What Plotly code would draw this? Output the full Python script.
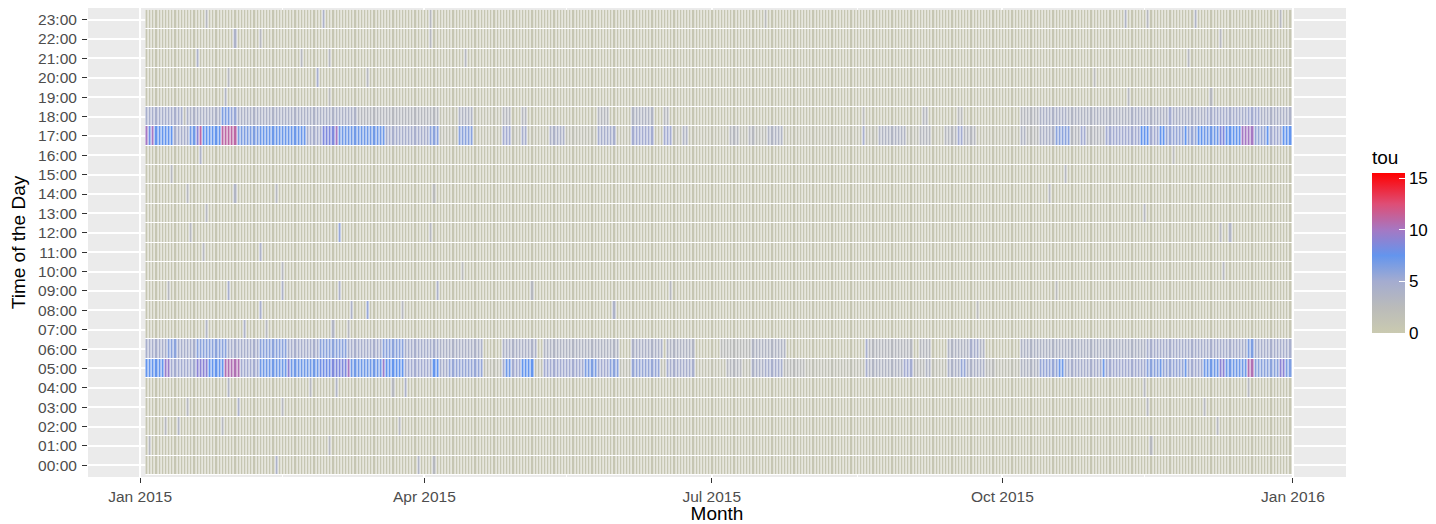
import numpy as np
import pandas as pd
import plotly.graph_objects as go

# ---- data ----
N_DAYS = 363
START_DAY = "2015-01-03 05:00"
HOURS = list(range(24))
HOUR_LABELS = ["%02d:00" % h for h in HOURS]
X_TICKS = ["2015-01-01", "2015-04-01", "2015-07-01", "2015-10-01", "2016-01-01"]
X_TICK_LABELS = ["Jan 2015", "Apr 2015", "Jul 2015", "Oct 2015", "Jan 2016"]
X_MINOR = ["2015-02-15", "2015-05-16", "2015-08-16", "2015-11-15"]
BASE = 0.6

# (first day index, last day index, tou) runs for the busy hours
ROW17 = [(0,0,10),(1,1,8),(2,2,10),(3,8,7.5),(9,13,4.5),(14,15,7),(16,16,9),(17,17,11),
         (18,23,7.5),(24,28,11),(29,35,6.5),(36,50,7.2),(51,55,4.5),(56,59,8.5),(60,60,10),
         (61,75,7),(76,89,4.5),(90,92,6),(93,98,1.5),(99,103,6),(104,112,1),(113,115,5),
         (116,118,1.5),(119,120,4.5),(121,127,1),(128,132,4),(133,142,1.5),(143,148,4.5),
         (149,153,1),(154,160,5),(161,163,1),(164,166,5),(167,169,1.5),(170,171,3.5),
         (172,184,1),(185,187,3),(188,190,1.5),(191,192,3),(193,196,2),(197,201,3.5),
         (202,226,1),(227,227,4.5),(228,231,1.5),(232,240,3.5),(241,244,1.5),(245,248,3),
         (249,252,1),(253,256,3),(257,258,5),(259,262,3),(263,276,1),(277,278,3.5),
         (279,282,2.5),(283,287,4),(288,292,6),(293,295,3),(296,297,5),(298,303,3),
         (304,314,5),(315,317,7.5),(318,320,5),(321,322,7.5),(323,328,5.5),(329,329,7.5),
         (330,332,5.5),(333,334,7.5),(335,339,7),(340,341,8.5),(342,346,7.5),(347,350,10),
         (351,354,5.5),(355,355,7.5),(356,359,5),(360,362,7.5)]
ROW18 = [(0,11,4.5),(12,12,2),(13,23,4),(24,26,6.5),(27,28,5.5),(29,66,4),(67,92,3),
         (93,98,1),(99,103,3.5),(104,112,1),(113,115,3),(119,120,3),(143,146,3),(154,160,3.5),
         (164,165,3),(227,227,2.5),(246,247,3),(257,258,2.5),(277,282,3),(283,291,4),
         (292,311,3.5),(312,316,4),(317,323,3.8),(324,324,5),(325,335,4),(336,348,4.5),
         (349,352,5),(353,362,4)]
ROW5 = [(0,5,7.5),(6,7,9.5),(8,15,5),(16,17,9),(18,19,9),(20,24,7.5),(25,29,10.5),(30,35,5),
        (36,44,7),(45,45,9),(46,54,7),(55,58,8),(59,63,8.5),(64,64,10),(65,74,7),(75,75,9.5),
        (76,81,7.5),(82,90,5),(91,92,7.5),(93,95,4.5),(96,106,5.5),(107,112,1.5),(113,113,5),
        (114,115,7),(116,118,5),(119,122,7.5),(123,125,1.5),(126,138,5),(139,142,6.5),
        (143,146,5),(147,149,6),(150,153,1.5),(154,162,5.5),(163,164,1.5),(165,173,4.5),
        (174,183,1),(184,188,3),(189,191,1.5),(192,195,4),(196,201,4.5),(202,208,2.5),
        (209,227,1.5),(228,228,4.5),(229,239,3.5),(240,242,5),(243,246,2.5),(247,248,3.5),
        (249,253,1.5),(254,257,4),(258,259,5.5),(260,265,4),(266,268,2.5),(269,276,1.5),
        (277,282,3.5),(283,288,5.5),(289,290,7),(291,302,4.5),(303,303,7),(304,316,5),
        (317,320,6),(321,321,7),(322,328,5.5),(329,329,7),(330,334,5),(335,339,7),
        (340,341,9),(342,348,7),(349,350,10.5),(351,358,6),(359,360,9),(361,362,6.5)]
ROW6 = [(0,6,4.5),(7,9,6),(10,15,4.5),(16,25,6),(26,35,4.5),(36,44,6),(45,54,4.5),(55,63,6),
        (64,74,4.5),(75,81,6),(82,92,4.5),(93,106,4),(113,123,4),(126,149,3.5),(154,163,4),
        (165,173,3.5),(182,191,2.5),(192,202,3.5),(228,228,4.5),(229,242,3),(245,248,3),
        (254,260,3.5),(261,263,4.5),(264,265,3.5),(277,316,3.7),(317,348,4.5),(349,350,6.5),
        (351,362,4.5)]

# isolated (hour, day index, tou) cells in the quiet hours
FLECKS = [(23,19,3),(23,56,4),(23,90,3),(23,196,2.5),(23,310,3.5),(23,317,3),(23,332,3.5),(23,359,3),
          (22,28,4),(22,36,3),(22,90,3),(22,340,3),
          (21,16,4),(21,49,3),(21,58,3),(21,101,3),(21,330,3),
          (20,26,3),(20,54,4.5),(20,70,3),(20,300,2.5),
          (19,25,3.5),(19,58,2.5),(19,311,3),(19,337,3),
          (16,17,4),(16,325,2.5),
          (15,8,3),(15,291,3),
          (14,13,3),(14,28,3.5),(14,41,3),(14,91,2.5),(14,286,3),
          (13,19,3),(13,316,3),
          (12,14,3),(12,61,5.5),(12,90,3),(12,340,3),(12,343,3.5),
          (11,18,3),(11,36,4),
          (10,43,3),(10,100,2.5),(10,341,3),
          (9,7,3),(9,26,4.5),(9,43,4),(9,61,4),(9,92,4),(9,122,3),(9,166,3),(9,288,2.5),
          (8,36,4.5),(8,65,4),(8,70,5.5),(8,81,3),(8,148,4),(8,263,2.5),
          (7,19,3.5),(7,31,4),(7,38,3),(7,59,3.5),(7,64,3),
          (4,26,3.5),(4,52,3),(4,60,3.5),(4,78,3),(4,82,4),(4,316,3),(4,349,3),
          (3,13,3),(3,29,4),(3,43,3),(3,317,3),(3,335,3),
          (2,6,3),(2,10,3.5),(2,24,3),(2,80,3),(2,339,3),
          (1,1,3),(1,58,3),(1,318,3),
          (0,41,4),(0,86,3.5),(0,91,3)]

# ---- build the grid ----
days = pd.date_range(START_DAY, periods=N_DAYS, freq="D")
z = np.full((24, N_DAYS), BASE)
for hour, runs in ((17, ROW17), (18, ROW18), (5, ROW5), (6, ROW6)):
    for a, b, v in runs:
        z[hour, a:b + 1] = v
for hour, d, v in FLECKS:
    z[hour, d] = v

colorscale = [
    [0.0, "rgb(202,202,176)"],
    [0.161, "rgb(186,187,186)"],
    [0.323, "rgb(164,172,208)"],
    [0.484, "rgb(100,149,237)"],
    [0.645, "rgb(165,120,195)"],
    [0.806, "rgb(222,78,118)"],
    [1.0, "rgb(255,0,0)"],
]

# figure sits 8px in from the page corner (body margin), so size it to fit
W, H = 1428, 516
L, R, T, B = 80, 84, 0, 47
PW, PH = W - L - R, H - T - B

fig = go.Figure(go.Heatmap(
    x=days, y=HOURS, z=z,
    colorscale=colorscale, zmin=0, zmax=15.5,
    xgap=1, ygap=1,
    colorbar=dict(
        title=dict(text="tou", side="top", font=dict(size=19, color="black")),
        x=(1368 - L) / PW, xanchor="left", xpad=2,
        y=(H - B - 232) / PH, yanchor="middle", ypad=0,
        thickness=33, len=186, lenmode="pixels",
        tickvals=[0, 5, 10, 15], ticks="inside", tickcolor="white", ticklen=6,
        tickfont=dict(size=17, color="black"), outlinewidth=0,
    ),
))

half = pd.Timedelta(hours=12)
fig.add_shape(type="rect", layer="below", xref="x", yref="y",
              x0=days[0] - half, x1=days[-1] + half, y0=-0.5, y1=23.5,
              fillcolor="white", line=dict(width=0))

fig.update_layout(
    width=W, height=H,
    margin=dict(l=L, r=R, t=T, b=B),
    paper_bgcolor="white", plot_bgcolor="#EBEBEB",
    font=dict(family="Liberation Sans, Arial, sans-serif"),
    xaxis=dict(
        type="date", range=["2014-12-15 12:00", "2016-01-17 19:00"],
        automargin=False,
        tickmode="array", tickvals=X_TICKS, ticktext=X_TICK_LABELS,
        ticks="outside", ticklen=5, tickcolor="#333333", ticklabelstandoff=0,
        tickfont=dict(size=15.5, color="#4D4D4D"),
        showgrid=True, gridcolor="white", gridwidth=1.5,
        minor=dict(tickvals=X_MINOR, showgrid=True, gridcolor="white", gridwidth=0.8),
        zeroline=False, showline=False,
        title=dict(text="Month", font=dict(size=19, color="black"), standoff=5),
    ),
    yaxis=dict(
        range=[-0.6, 23.6], automargin=False,
        tickmode="array", tickvals=HOURS, ticktext=HOUR_LABELS,
        ticks="outside", ticklen=5, tickcolor="#333333", ticklabelstandoff=2,
        tickfont=dict(size=15.5, color="#4D4D4D"),
        showgrid=True, gridcolor="white", gridwidth=1.5,
        zeroline=False, showline=False,
        title=dict(text="Time of the Day", font=dict(size=19, color="black"), standoff=8),
    ),
)

fig.write_html("out.html")
